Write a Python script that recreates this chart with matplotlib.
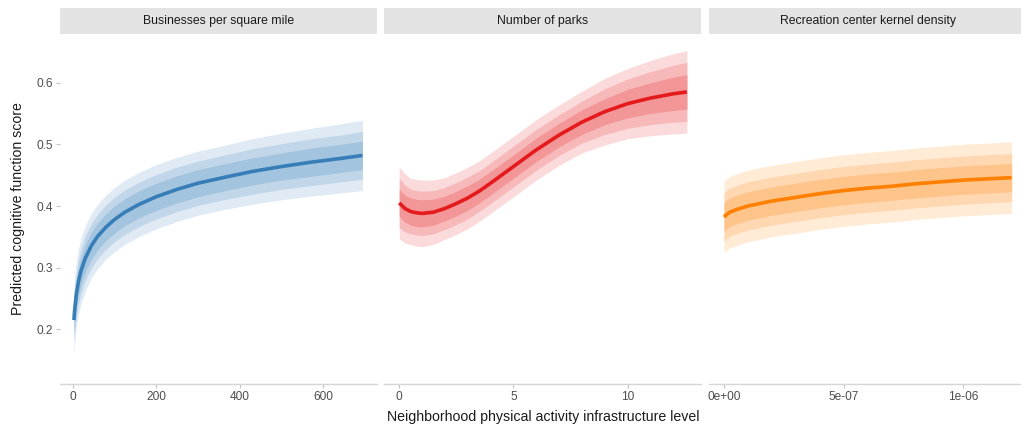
import matplotlib
matplotlib.use("Agg")
import matplotlib.pyplot as plt
import numpy as np

plt.rcParams['font.family'] = ['Liberation Sans', 'DejaVu Sans']

# ---------------- data ----------------
panel_titles = ["Businesses per square mile", "Number of parks", "Recreation center kernel density"]
line_colors = ["#377eb8", "#e41a1c", "#ff7f00"]

# Businesses per square mile
biz_x = [3, 4, 6, 9, 14, 20, 30, 45, 60, 80, 100, 125, 160, 200, 250, 300, 360, 430, 500, 570, 640, 694]
biz_mean = [0.215, 0.225, 0.240, 0.258, 0.278, 0.295, 0.315, 0.336, 0.351, 0.366, 0.378, 0.390,
            0.403, 0.415, 0.427, 0.437, 0.446, 0.456, 0.464, 0.471, 0.477, 0.482]
biz_w50 = [0.022] * 16 + [0.022, 0.022, 0.022, 0.023, 0.023, 0.023]
biz_w80 = [0.036] * 16 + [0.036, 0.037, 0.037, 0.038, 0.038, 0.039]
biz_w95 = [0.054, 0.054, 0.054, 0.053, 0.053, 0.053, 0.053, 0.052, 0.052, 0.052, 0.052, 0.052,
           0.052, 0.052, 0.052, 0.052, 0.052, 0.053, 0.054, 0.055, 0.056, 0.057]

# Number of parks
parks_x = [0, 0.25, 0.5, 0.75, 1.0, 1.5, 2.0, 2.5, 3.0, 3.5, 4.0, 5.0, 6.0, 7.0, 8.0, 9.0, 10.0, 11.0, 12.0, 12.6]
parks_mean = [0.405, 0.396, 0.391, 0.389, 0.388, 0.390, 0.396, 0.404, 0.413, 0.424, 0.437, 0.464,
              0.491, 0.515, 0.536, 0.553, 0.566, 0.575, 0.582, 0.585]
parks_w50 = [0.022, 0.022, 0.022, 0.022, 0.022, 0.021, 0.020, 0.020, 0.020, 0.019, 0.019, 0.019,
             0.019, 0.019, 0.020, 0.021, 0.023, 0.025, 0.027, 0.028]
parks_w80 = [0.040, 0.038, 0.036, 0.036, 0.036, 0.035, 0.034, 0.034, 0.034, 0.033, 0.033, 0.033,
             0.033, 0.033, 0.034, 0.037, 0.040, 0.043, 0.046, 0.048]
parks_w95 = [0.058, 0.056, 0.054, 0.054, 0.054, 0.052, 0.050, 0.050, 0.050, 0.049, 0.049, 0.049,
             0.049, 0.049, 0.050, 0.054, 0.057, 0.061, 0.065, 0.067]

# Recreation center kernel density
rec_x = [0, 0.01e-6, 0.025e-6, 0.05e-6, 0.1e-6, 0.15e-6, 0.2e-6, 0.3e-6, 0.4e-6, 0.5e-6, 0.6e-6,
         0.7e-6, 0.8e-6, 0.9e-6, 1.0e-6, 1.1e-6, 1.2035e-6]
rec_mean = [0.382, 0.386, 0.390, 0.394, 0.400, 0.404, 0.408, 0.414, 0.420, 0.425, 0.429,
            0.432, 0.436, 0.439, 0.442, 0.444, 0.446]
rec_w50 = [0.023] * 17
rec_w80 = [0.039] * 17
rec_w95 = [0.058] * 17

x_ticks = [[0, 200, 400, 600], [0, 5, 10], [0, 5e-7, 1e-6]]
x_tick_labels = [["0", "200", "400", "600"], ["0", "5", "10"], ["0e+00", "5e-07", "1e-06"]]
y_ticks = [0.2, 0.3, 0.4, 0.5, 0.6]
y_tick_labels = ["0.2", "0.3", "0.4", "0.5", "0.6"]

series = [
    (biz_x, biz_mean, biz_w50, biz_w80, biz_w95),
    (parks_x, parks_mean, parks_w50, parks_w80, parks_w95),
    (rec_x, rec_mean, rec_w50, rec_w80, rec_w95),
]

# ---------------- layout ----------------
W, H = 1021, 433
fig = plt.figure(figsize=(W / 100, H / 100), dpi=100)

panel_left = [60, 384, 709]
panel_w = 317
panel_top, panel_bottom = 34, 384
strip_top = 8
xlims = [(-30.4, 728.9), (-0.668, 13.22), (-0.0628e-6, 1.2636e-6)]
ylim = (0.1113, 0.679)

axis_gray = "#d6d6d6"
tick_text = "#4d4d4d"


def blend(hex_color, a):
    c = np.array(matplotlib.colors.to_rgb(hex_color))
    return tuple(1 - a * (1 - c))


for i in range(3):
    l = panel_left[i]
    ax = fig.add_axes([l / W, 1 - panel_bottom / H, panel_w / W, (panel_bottom - panel_top) / H])
    xs, m, w50, w80, w95 = [np.array(v, dtype=float) for v in series[i]]
    col = line_colors[i]
    ax.fill_between(xs, m - w95, m + w95, color=blend(col, 0.16), lw=0, zorder=1)
    ax.fill_between(xs, m - w80, m + w80, color=blend(col, 0.31), lw=0, zorder=2)
    ax.fill_between(xs, m - w50, m + w50, color=blend(col, 0.46), lw=0, zorder=3)
    ax.plot(xs, m, color=col, lw=2.6, solid_capstyle="butt", zorder=4)
    ax.set_xlim(*xlims[i])
    ax.set_ylim(*ylim)
    for s in ["top", "right", "left"]:
        ax.spines[s].set_visible(False)
    ax.spines["bottom"].set_color(axis_gray)
    ax.spines["bottom"].set_linewidth(1.0)
    ax.set_xticks(x_ticks[i])
    ax.set_xticklabels(x_tick_labels[i])
    ax.tick_params(axis="x", length=3, width=0.8, color="#c4c4c4", labelsize=8.6,
                   labelcolor=tick_text, pad=2)
    if i == 0:
        ax.set_yticks(y_ticks)
        ax.set_yticklabels(y_tick_labels)
        ax.tick_params(axis="y", length=3, width=0.8, color="#c4c4c4", labelsize=8.6,
                       labelcolor=tick_text, pad=2)
    else:
        ax.set_yticks([])
    ax.set_facecolor("white")

    sax = fig.add_axes([l / W, 1 - panel_top / H, panel_w / W, (panel_top - strip_top) / H])
    sax.set_facecolor("#e3e3e3")
    for s in sax.spines.values():
        s.set_visible(False)
    sax.set_xticks([])
    sax.set_yticks([])
    sax.text(0.5, 0.5, panel_titles[i], ha="center", va="center", fontsize=8.8,
             color="#1a1a1a", transform=sax.transAxes)

fig.text(18 / W, 1 - 209 / H, "Predicted cognitive function score", rotation=90,
         ha="center", va="center", fontsize=10.2, color="#1a1a1a")
fig.text(543 / W, 1 - 417 / H, "Neighborhood physical activity infrastructure level",
         ha="center", va="center", fontsize=10.2, color="#1a1a1a")

fig.savefig("out.png", dpi=100, facecolor="white")
